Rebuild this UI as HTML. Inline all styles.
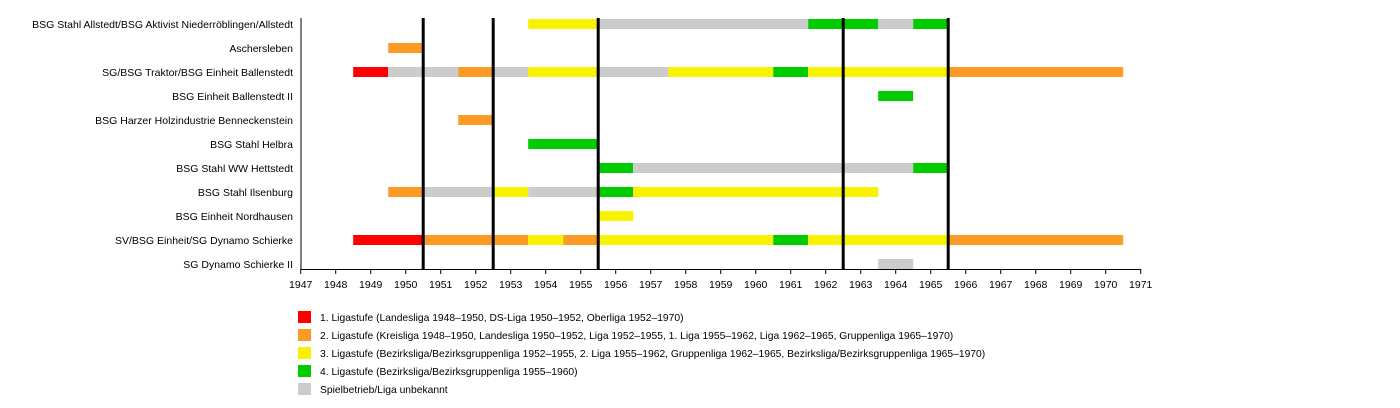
<!DOCTYPE html>
<html><head><meta charset="utf-8"><style>
body{margin:0;background:#fff;width:1400px;height:408px;overflow:hidden}
svg{display:block}
text{font-family:"Liberation Sans",sans-serif;fill:#000}
</style></head><body>
<svg width="1400" height="408" xmlns="http://www.w3.org/2000/svg">
<g font-size="10.5" text-anchor="end">
<text x="293" y="28">BSG Stahl Allstedt/BSG Aktivist Niederröblingen/Allstedt</text>
<text x="293" y="52">Aschersleben</text>
<text x="293" y="76">SG/BSG Traktor/BSG Einheit Ballenstedt</text>
<text x="293" y="100">BSG Einheit Ballenstedt II</text>
<text x="293" y="124">BSG Harzer Holzindustrie Benneckenstein</text>
<text x="293" y="148">BSG Stahl Helbra</text>
<text x="293" y="172">BSG Stahl WW Hettstedt</text>
<text x="293" y="196">BSG Stahl Ilsenburg</text>
<text x="293" y="220">BSG Einheit Nordhausen</text>
<text x="293" y="244">SV/BSG Einheit/SG Dynamo Schierke</text>
<text x="293" y="268">SG Dynamo Schierke II</text>
</g>
<g>
<rect x="528.2" y="19" width="70" height="10" fill="#f8f200"/>
<rect x="598.2" y="19" width="210" height="10" fill="#cccccc"/>
<rect x="808.2" y="19" width="70" height="10" fill="#00cc00"/>
<rect x="878.2" y="19" width="35" height="10" fill="#cccccc"/>
<rect x="913.2" y="19" width="35" height="10" fill="#00cc00"/>
<rect x="388.2" y="43" width="35" height="10" fill="#f99b25"/>
<rect x="353.2" y="67" width="35" height="10" fill="#ff0000"/>
<rect x="388.2" y="67" width="70" height="10" fill="#cccccc"/>
<rect x="458.2" y="67" width="35" height="10" fill="#f99b25"/>
<rect x="493.2" y="67" width="35" height="10" fill="#cccccc"/>
<rect x="528.2" y="67" width="70" height="10" fill="#f8f200"/>
<rect x="598.2" y="67" width="70" height="10" fill="#cccccc"/>
<rect x="668.2" y="67" width="105" height="10" fill="#f8f200"/>
<rect x="773.2" y="67" width="35" height="10" fill="#00cc00"/>
<rect x="808.2" y="67" width="140" height="10" fill="#f8f200"/>
<rect x="948.2" y="67" width="175" height="10" fill="#f99b25"/>
<rect x="878.2" y="91" width="35" height="10" fill="#00cc00"/>
<rect x="458.2" y="115" width="35" height="10" fill="#f99b25"/>
<rect x="528.2" y="139" width="70" height="10" fill="#00cc00"/>
<rect x="598.2" y="163" width="35" height="10" fill="#00cc00"/>
<rect x="633.2" y="163" width="280" height="10" fill="#cccccc"/>
<rect x="913.2" y="163" width="35" height="10" fill="#00cc00"/>
<rect x="388.2" y="187" width="35" height="10" fill="#f99b25"/>
<rect x="423.2" y="187" width="70" height="10" fill="#cccccc"/>
<rect x="493.2" y="187" width="35" height="10" fill="#f8f200"/>
<rect x="528.2" y="187" width="70" height="10" fill="#cccccc"/>
<rect x="598.2" y="187" width="35" height="10" fill="#00cc00"/>
<rect x="633.2" y="187" width="245" height="10" fill="#f8f200"/>
<rect x="598.2" y="211" width="35" height="10" fill="#f8f200"/>
<rect x="353.2" y="235" width="70" height="10" fill="#ff0000"/>
<rect x="423.2" y="235" width="105" height="10" fill="#f99b25"/>
<rect x="528.2" y="235" width="35" height="10" fill="#f8f200"/>
<rect x="563.2" y="235" width="35" height="10" fill="#f99b25"/>
<rect x="598.2" y="235" width="175" height="10" fill="#f8f200"/>
<rect x="773.2" y="235" width="35" height="10" fill="#00cc00"/>
<rect x="808.2" y="235" width="140" height="10" fill="#f8f200"/>
<rect x="948.2" y="235" width="175" height="10" fill="#f99b25"/>
<rect x="878.2" y="259" width="35" height="10" fill="#cccccc"/>
</g>
<g stroke="#000" stroke-width="3">
<line x1="423.2" y1="18" x2="423.2" y2="269"/>
<line x1="493.2" y1="18" x2="493.2" y2="269"/>
<line x1="598.2" y1="18" x2="598.2" y2="269"/>
<line x1="843.2" y1="18" x2="843.2" y2="269"/>
<line x1="948.2" y1="18" x2="948.2" y2="269"/>
</g>
<g stroke="#000" stroke-width="1">
<line x1="301" y1="18" x2="301" y2="269.5"/>
<line x1="300.7" y1="269.5" x2="1140.7" y2="269.5"/>
<path d="M300.7 269v5M335.7 269v5M370.7 269v5M405.7 269v5M440.7 269v5M475.7 269v5M510.7 269v5M545.7 269v5M580.7 269v5M615.7 269v5M650.7 269v5M685.7 269v5M720.7 269v5M755.7 269v5M790.7 269v5M825.7 269v5M860.7 269v5M895.7 269v5M930.7 269v5M965.7 269v5M1000.7 269v5M1035.7 269v5M1070.7 269v5M1105.7 269v5M1140.7 269v5"/>
</g>
<g font-size="10.5" text-anchor="middle">
<text x="300.7" y="288">1947</text><text x="335.7" y="288">1948</text><text x="370.7" y="288">1949</text><text x="405.7" y="288">1950</text><text x="440.7" y="288">1951</text><text x="475.7" y="288">1952</text><text x="510.7" y="288">1953</text><text x="545.7" y="288">1954</text><text x="580.7" y="288">1955</text><text x="615.7" y="288">1956</text><text x="650.7" y="288">1957</text><text x="685.7" y="288">1958</text><text x="720.7" y="288">1959</text><text x="755.7" y="288">1960</text><text x="790.7" y="288">1961</text><text x="825.7" y="288">1962</text><text x="860.7" y="288">1963</text><text x="895.7" y="288">1964</text><text x="930.7" y="288">1965</text><text x="965.7" y="288">1966</text><text x="1000.7" y="288">1967</text><text x="1035.7" y="288">1968</text><text x="1070.7" y="288">1969</text><text x="1105.7" y="288">1970</text><text x="1140.7" y="288">1971</text>
</g>
<g font-size="10.3">
<rect x="298" y="311" width="13" height="12" fill="#ff0000"/>
<text x="320" y="321">1. Ligastufe (Landesliga 1948–1950, DS-Liga 1950–1952, Oberliga 1952–1970)</text>
<rect x="298" y="329" width="13" height="12" fill="#f99b25"/>
<text x="320" y="339">2. Ligastufe (Kreisliga 1948–1950, Landesliga 1950–1952, Liga 1952–1955, 1. Liga 1955–1962, Liga 1962–1965, Gruppenliga 1965–1970)</text>
<rect x="298" y="347" width="13" height="12" fill="#f8f200"/>
<text x="320" y="357">3. Ligastufe (Bezirksliga/Bezirksgruppenliga 1952–1955, 2. Liga 1955–1962, Gruppenliga 1962–1965, Bezirksliga/Bezirksgruppenliga 1965–1970)</text>
<rect x="298" y="365" width="13" height="12" fill="#00cc00"/>
<text x="320" y="375">4. Ligastufe (Bezirksliga/Bezirksgruppenliga 1955–1960)</text>
<rect x="298" y="383" width="13" height="12" fill="#cccccc"/>
<text x="320" y="393">Spielbetrieb/Liga unbekannt</text>
</g>
</svg>
</body></html>
